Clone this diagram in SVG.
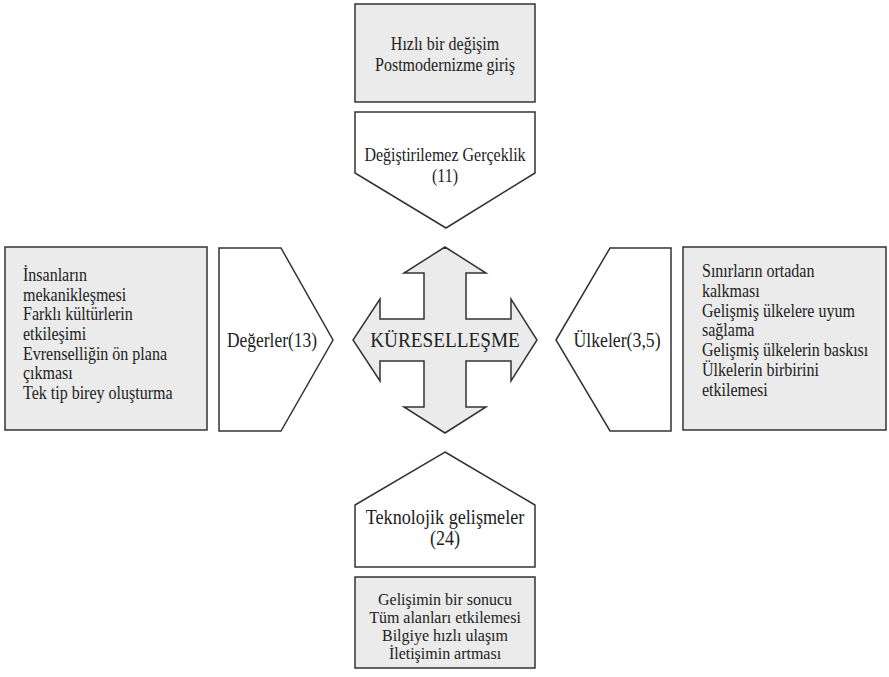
<svg xmlns="http://www.w3.org/2000/svg" width="889" height="677" viewBox="0 0 889 677">
<style>
.box{fill:#ebebeb;stroke:#333333;stroke-width:1.5}
.shape{fill:#ffffff;stroke:#333333;stroke-width:1.5}
.cross{fill:#ebebeb;stroke:#333333;stroke-width:1.5;stroke-linejoin:miter}
.t{fill:#222}
.h{font-size:19.5px}
.p{font-size:18.5px}
.b{font-size:18.3px}
.s{font-size:17px}
.c{text-anchor:middle}
.l{font-size:21px}
.k{font-size:22px}
</style>
<rect width="889" height="677" fill="#ffffff"/>
<g id="connectors"/>

<g font-family="Liberation Serif, Times New Roman, serif">
<g id="top-box">
<rect class="box" x="355" y="4" width="180" height="98"/>
<text class="t h c" transform="translate(445 50) scale(0.82 1)">Hızlı bir değişim</text>
<text class="t h c" transform="translate(445 71) scale(0.82 1)">Postmodernizme giriş</text>
</g>

<g id="top-pentagon">
<polygon class="shape" points="355,112 535,112 535,173 446,228 355,173"/>
<text class="t p c" transform="translate(445 161) scale(0.865 1)">Değiştirilemez Gerçeklik</text>
<text class="t p c" transform="translate(445 182) scale(0.865 1)">(11)</text>
</g>

<g id="left-box">
<rect class="box" x="5" y="247" width="202" height="183"/>
<text class="t b" transform="translate(23 281) scale(0.875 1)">İnsanların</text>
<text class="t b" transform="translate(23 300.7) scale(0.875 1)">mekanikleşmesi</text>
<text class="t b" transform="translate(23 320.3) scale(0.875 1)">Farklı kültürlerin</text>
<text class="t b" transform="translate(23 340) scale(0.875 1)">etkileşimi</text>
<text class="t b" transform="translate(23 359.7) scale(0.875 1)">Evrenselliğin ön plana</text>
<text class="t b" transform="translate(23 379.3) scale(0.875 1)">çıkması</text>
<text class="t b" transform="translate(23 399) scale(0.875 1)">Tek tip birey oluşturma</text>
</g>

<g id="left-pentagon">
<polygon class="shape" points="219,248 281,248 333,340 281,431 219,431"/>
<text class="t l c" transform="translate(272 347) scale(0.83 1)">Değerler(13)</text>
</g>

<g id="center-cross">
<polygon class="cross" points="445,247 486,273 466,273 466,319 511,319 511,299 537,340 511,381 511,361 466,361 466,407 486,407 445,433 404,407 424,407 424,361 380,361 380,381 353,340 380,299 380,319 424,319 424,273 404,273"/>
<text class="t k c" transform="translate(445 347) scale(0.875 1)">KÜRESELLEŞME</text>
</g>

<g id="right-pentagon">
<polygon class="shape" points="556,340 610,248 671,248 671,431 610,431"/>
<text class="t l c" transform="translate(617 347) scale(0.845 1)">Ülkeler(3,5)</text>
</g>

<g id="right-box">
<rect class="box" x="683" y="247" width="203" height="183"/>
<text class="t b" transform="translate(702 277) scale(0.875 1)">Sınırların ortadan</text>
<text class="t b" transform="translate(702 296.8) scale(0.875 1)">kalkması</text>
<text class="t b" transform="translate(702 316.6) scale(0.875 1)">Gelişmiş ülkelere uyum</text>
<text class="t b" transform="translate(702 336.4) scale(0.875 1)">sağlama</text>
<text class="t b" transform="translate(702 356.2) scale(0.875 1)">Gelişmiş ülkelerin baskısı</text>
<text class="t b" transform="translate(702 376) scale(0.875 1)">Ülkelerin birbirini</text>
<text class="t b" transform="translate(702 395.8) scale(0.875 1)">etkilemesi</text>
</g>

<g id="bottom-pentagon">
<polygon class="shape" points="445,452 535,505 535,567 355,567 355,505"/>
<text class="t l c" transform="translate(445 524) scale(0.865 1)">Teknolojik gelişmeler</text>
<text class="t l c" transform="translate(445 545) scale(0.865 1)">(24)</text>
</g>

<g id="bottom-box">
<rect class="box" x="355" y="577" width="180" height="91"/>
<text class="t s c" transform="translate(445 605) scale(0.94 1)">Gelişimin bir sonucu</text>
<text class="t s c" transform="translate(445 623) scale(0.94 1)">Tüm alanları etkilemesi</text>
<text class="t s c" transform="translate(445 641) scale(0.94 1)">Bilgiye hızlı ulaşım</text>
<text class="t s c" transform="translate(445 659) scale(0.94 1)">İletişimin artması</text>
</g>
</g>
</svg>
